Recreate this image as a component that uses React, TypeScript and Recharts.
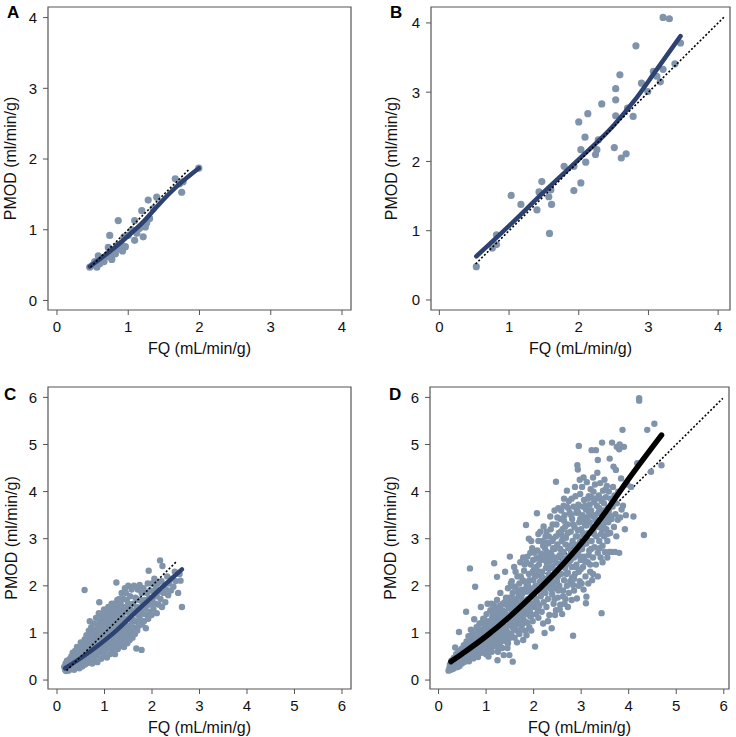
import { ReferenceArea, Scatter, ScatterChart, XAxis, YAxis } from "recharts";

type Pt = [number, number];

const DOT = "#7f93ab";
const NAVY = "#2d4270";
const FRAME = "#555";

const ticks4 = [0, 1, 2, 3, 4];
const ticks6 = [0, 1, 2, 3, 4, 5, 6];

// panel A
const aPoints: Pt[] = [
  [0.46, 0.47], [0.5, 0.5], [0.53, 0.55], [0.56, 0.47], [0.58, 0.63], [0.6, 0.52],
  [0.63, 0.6], [0.66, 0.55], [0.7, 0.62], [0.72, 0.75], [0.74, 0.92], [0.75, 0.65],
  [0.77, 0.58], [0.8, 0.7], [0.82, 0.66], [0.85, 0.78], [0.86, 1.13], [0.88, 0.73],
  [0.9, 0.8], [0.92, 0.7], [0.94, 0.9], [0.96, 0.76], [1.0, 0.92], [1.05, 1.0],
  [1.09, 0.85], [1.09, 1.13], [1.12, 0.95], [1.16, 1.02], [1.19, 1.27], [1.21, 0.9],
  [1.24, 1.04], [1.26, 1.1], [1.28, 1.42], [1.3, 1.16], [1.35, 1.3], [1.4, 1.46],
  [1.66, 1.72], [1.72, 1.65], [1.75, 1.53], [1.77, 1.68], [1.99, 1.87],
];
const aFit: Pt[] = [
  [0.46, 0.48], [0.7, 0.66], [0.95, 0.87], [1.2, 1.1], [1.45, 1.38], [1.7, 1.63], [1.99, 1.87],
];
const aIdentity: Pt[] = [[0.47, 0.47], [1.86, 1.86]];

// panel B
const bPoints: Pt[] = [
  [0.53, 0.48], [0.76, 0.75], [0.82, 0.8], [0.82, 0.94], [1.03, 1.51], [1.17, 1.38],
  [1.4, 1.3], [1.43, 1.56], [1.47, 1.71], [1.57, 1.49], [1.6, 1.59], [1.61, 1.38],
  [1.58, 0.96], [1.79, 1.93], [1.93, 1.93], [1.93, 1.58], [2.0, 2.57], [2.03, 1.69],
  [2.03, 2.17], [2.09, 2.35], [2.1, 1.99], [2.13, 2.69], [2.24, 2.1], [2.26, 2.17],
  [2.33, 2.83], [2.28, 2.31], [2.51, 2.2], [2.53, 3.05], [2.53, 2.89], [2.53, 2.66],
  [2.59, 3.25], [2.61, 2.05], [2.68, 2.11], [2.7, 2.77], [2.78, 2.65], [2.82, 3.67],
  [2.9, 3.13], [2.99, 3.01], [3.07, 3.3], [3.12, 3.23], [3.17, 3.15], [3.21, 3.33],
  [3.21, 4.08], [3.3, 4.06], [3.38, 3.41], [3.46, 3.71],
];
const bFit: Pt[] = [
  [0.53, 0.63], [1.0, 1.07], [1.5, 1.56], [2.0, 2.03], [2.5, 2.52], [2.8, 2.88],
  [3.1, 3.3], [3.46, 3.81],
];
const bIdentity: Pt[] = [[0.52, 0.52], [4.1, 4.1]];

// panel C
const cPoints: Pt[] = [
  [0.15, 0.28], [0.17, 0.22], [0.18, 0.35], [0.19, 0.19], [0.2, 0.3], [0.21, 0.41], [0.22, 0.24], [0.23, 0.33],
  [0.24, 0.2], [0.25, 0.38], [0.26, 0.28], [0.27, 0.45], [0.28, 0.23], [0.29, 0.34], [0.3, 0.5],
  [0.31, 0.27], [0.32, 0.4], [0.33, 0.58], [0.34, 0.31], [0.35, 0.47], [0.36, 0.22], [0.37, 0.36], [0.38, 0.62],
  [0.39, 0.28], [0.4, 0.52], [0.41, 0.42], [0.42, 0.7], [0.43, 0.3], [0.44, 0.57], [0.45, 0.38],
  [0.46, 0.48], [0.47, 0.25], [0.48, 0.66], [0.49, 0.34], [0.5, 0.8], [0.51, 0.44], [0.52, 0.55], [0.53, 0.29],
  [0.54, 0.72], [0.55, 0.4], [0.56, 0.62], [0.57, 0.5], [0.58, 1.91], [0.58, 0.86], [0.59, 0.33], [0.6, 0.68],
  [0.61, 0.45], [0.62, 0.95], [0.63, 0.56], [0.64, 0.36], [0.65, 0.78], [0.66, 0.5], [0.67, 1.05], [0.68, 0.64],
  [0.69, 1.25], [0.69, 0.4], [0.7, 0.88], [0.71, 0.55], [0.72, 1.12], [0.73, 0.72], [0.74, 0.35], [0.75, 0.98],
  [0.76, 0.6], [0.77, 1.2], [0.78, 0.82], [0.79, 0.45], [0.8, 1.05], [0.81, 0.68], [0.82, 1.32], [0.83, 0.52],
  [0.84, 0.92], [0.85, 0.38], [0.86, 1.18], [0.87, 0.75], [0.88, 1.42], [0.88, 0.58], [0.89, 1.65], [0.9, 1.0],
  [0.91, 0.65], [0.92, 1.25], [0.93, 0.45], [0.94, 0.85], [0.95, 1.35], [0.96, 0.7], [0.97, 1.1], [0.98, 0.52],
  [0.99, 1.5], [1.0, 0.92], [1.01, 0.62], [1.02, 1.22], [1.03, 0.8], [1.04, 1.42], [1.05, 0.48], [1.05, 1.02],
  [1.06, 1.3], [1.07, 0.7], [1.08, 1.55], [1.09, 0.9], [1.1, 1.15], [1.11, 0.55], [1.12, 1.4], [1.13, 0.78],
  [1.14, 1.05], [1.15, 1.62], [1.16, 0.62], [1.17, 1.25], [1.18, 0.88], [1.19, 1.5], [1.2, 0.72], [1.2, 1.12],
  [1.21, 1.38], [1.22, 0.55], [1.23, 0.98], [1.24, 1.58], [1.25, 2.07], [1.25, 0.8], [1.26, 1.22], [1.27, 1.7],
  [1.28, 0.66], [1.29, 1.05], [1.3, 1.45], [1.31, 0.9], [1.32, 1.3], [1.33, 0.72], [1.34, 1.62], [1.35, 1.1],
  [1.36, 1.85], [1.37, 0.82], [1.38, 1.38], [1.39, 1.0], [1.4, 1.55], [1.41, 0.7], [1.42, 1.22], [1.43, 1.95],
  [1.44, 0.9], [1.45, 1.45], [1.46, 1.08], [1.47, 1.7], [1.48, 0.78], [1.49, 1.3], [1.5, 2.0], [1.5, 0.98],
  [1.51, 1.55], [1.52, 1.15], [1.53, 0.85], [1.54, 1.78], [1.55, 1.35], [1.56, 1.0], [1.57, 1.92], [1.58, 1.25],
  [1.59, 0.9], [1.6, 1.62], [1.61, 1.12], [1.62, 2.0], [1.63, 1.42], [1.64, 0.98], [1.65, 1.75],
  [1.66, 1.25], [1.67, 0.67], [1.68, 1.55], [1.69, 1.05], [1.7, 1.92], [1.71, 1.38], [1.72, 1.15], [1.73, 1.7],
  [1.74, 2.02], [1.75, 1.28], [1.76, 1.5], [1.78, 0.64], [1.78, 1.85], [1.79, 1.18], [1.8, 1.62],
  [1.81, 1.4], [1.82, 1.95], [1.83, 1.25], [1.84, 1.7], [1.86, 1.52], [1.87, 1.1], [1.88, 1.39], [1.89, 1.85],
  [1.9, 1.6], [1.91, 2.05], [1.92, 1.3], [1.93, 2.32], [1.94, 1.75], [1.95, 1.45],
  [1.96, 1.9], [1.97, 1.6], [1.99, 1.38], [2.0, 2.05], [2.01, 1.72], [2.03, 1.5], [2.04, 1.88], [2.05, 2.15],
  [2.07, 1.62], [2.08, 1.95], [2.1, 1.78], [2.1, 1.42],
  [2.12, 2.05], [2.14, 1.6], [2.15, 1.88], [2.17, 2.54], [2.18, 1.72], [2.2, 2.1], [2.21, 1.55], [2.22, 2.42],
  [2.24, 1.85], [2.26, 2.0], [2.28, 1.65], [2.3, 1.92],
  [2.32, 2.2], [2.34, 1.8], [2.36, 2.05], [2.4, 1.9], [2.42, 2.15], [2.45, 1.98], [2.5, 2.1], [2.55, 1.85],
  [2.6, 2.11], [2.63, 1.55], [2.58, 2.25], [2.48, 2.3],
  [0.45, 0.62], [1.17, 1.45], [0.73, 0.58], [1.33, 1.15], [0.92, 0.72], [0.56, 0.42], [1.45, 1.28], [0.84, 1.08],
  [1.26, 0.95], [0.64, 0.75], [1.05, 1.18], [0.38, 0.45], [1.4, 1.72], [0.97, 0.88], [1.22, 1.32], [0.78, 0.65],
  [1.55, 1.5], [0.52, 0.62], [1.1, 0.68], [0.87, 1.3], [1.36, 1.02], [0.66, 0.88], [1.2, 1.62], [0.93, 1.05],
  [0.42, 0.33], [1.48, 1.15], [0.8, 0.88], [1.03, 1.3], [0.6, 0.58], [1.3, 1.25], [0.98, 0.65], [1.15, 0.85],
  [0.7, 0.7], [1.42, 0.88], [0.86, 0.98], [1.25, 1.48], [0.5, 0.5], [1.07, 0.95], [1.6, 1.28], [0.75, 0.85],
  [1.35, 1.35], [0.95, 1.18], [1.18, 1.05], [0.62, 0.82], [1.5, 1.62], [0.82, 0.58], [1.28, 1.18], [1.0, 1.35],
  [0.55, 0.75], [1.12, 1.28], [1.38, 1.5], [0.68, 0.52], [0.9, 0.88], [1.23, 0.68], [1.45, 1.85], [0.77, 1.02],
  [1.6, 1.45], [1.02, 1.08], [0.35, 0.35], [1.32, 1.58], [0.88, 1.1], [1.16, 1.52], [1.53, 1.38], [0.72, 0.95],
  [1.08, 0.82], [1.27, 1.42], [0.57, 0.55], [1.44, 1.18], [0.97, 1.42], [1.68, 1.72], [1.21, 1.2], [0.83, 0.7],
  [1.39, 1.3], [1.06, 1.48], [0.47, 0.55], [1.58, 1.1], [1.13, 1.12], [0.65, 0.62], [1.31, 1.72], [0.93, 0.98],
];
const cFit: Pt[] = [
  [0.17, 0.25], [0.55, 0.5], [0.9, 0.76], [1.26, 1.06], [1.6, 1.39], [1.96, 1.73],
  [2.3, 2.05], [2.63, 2.35],
];
const cIdentity: Pt[] = [[0.2, 0.2], [2.52, 2.52]];

// panel D
const dPoints: Pt[] = [
  [0.21, 0.2], [0.23, 0.26], [0.24, 0.33], [0.26, 0.22], [0.27, 0.41], [0.29, 0.29], [0.3, 0.36], [0.31, 0.24], [0.32, 0.47],
  [0.34, 0.31], [0.35, 0.69], [0.36, 0.4], [0.37, 0.55], [0.38, 0.27], [0.4, 0.46], [0.41, 0.36], [0.42, 0.61],
  [0.43, 1.02], [0.44, 0.3], [0.45, 0.52],
  [0.47, 0.42], [0.48, 0.66], [0.49, 0.35], [0.51, 0.57], [0.52, 0.48], [0.53, 0.74], [0.55, 0.39], [0.56, 0.63],
  [0.57, 0.52], [0.58, 1.45], [0.59, 0.82], [0.6, 0.45],
  [0.61, 0.69], [0.62, 0.57], [0.63, 0.93], [0.64, 0.4], [0.65, 0.76], [0.66, 2.37], [0.67, 0.62], [0.68, 1.07],
  [0.69, 0.51], [0.7, 0.85], [0.71, 0.68], [0.72, 1.0], [0.73, 0.46], [0.74, 0.77], [0.75, 1.29],
  [0.76, 0.6], [0.77, 1.98], [0.78, 0.9], [0.79, 0.55], [0.8, 1.12], [0.81, 0.72], [0.82, 0.83], [0.83, 0.49],
  [0.84, 1.02], [0.85, 0.66], [0.86, 1.2], [0.87, 0.78], [0.88, 0.94], [0.89, 1.55], [0.9, 0.58],
  [0.91, 0.87], [0.92, 1.08], [0.93, 0.7], [0.94, 1.3], [0.95, 0.97], [0.96, 0.62], [0.97, 0.8], [0.98, 1.17],
  [0.99, 0.9], [1.0, 0.55], [1.01, 1.4], [1.02, 0.75], [1.03, 1.62], [1.04, 1.02], [1.05, 0.85],
  [1.06, 1.25], [1.07, 0.66], [1.08, 0.94], [1.09, 1.48], [1.1, 0.78], [1.11, 1.1], [1.12, 0.6], [1.13, 1.33],
  [1.14, 0.88], [1.15, 1.02], [1.16, 1.6], [1.17, 2.48], [1.17, 0.72], [1.18, 1.2], [1.19, 0.95], [1.2, 1.42],
  [1.21, 0.82], [1.22, 1.08], [1.23, 2.19], [1.23, 1.7], [1.24, 0.42], [1.25, 1.3], [1.26, 0.98], [1.27, 1.52],
  [1.28, 0.76], [1.29, 1.15], [1.3, 1.85], [1.31, 0.9], [1.32, 1.38], [1.33, 1.05], [1.34, 0.68], [1.35, 1.62],
  [1.36, 1.22], [1.37, 0.53], [1.38, 0.95], [1.39, 1.45], [1.4, 2.3], [1.41, 1.1], [1.42, 1.75], [1.43, 0.82],
  [1.44, 1.32], [1.45, 1.02], [1.46, 1.95], [1.47, 1.55], [1.48, 0.88], [1.49, 0.53], [1.5, 1.2], [1.5, 2.62],
  [1.51, 1.68], [1.52, 1.4], [1.53, 0.98], [1.54, 2.1], [1.55, 1.28], [1.56, 0.39], [1.56, 1.85], [1.57, 1.1],
  [1.58, 1.52], [1.59, 2.4], [1.6, 0.9], [1.61, 1.35], [1.62, 1.98], [1.63, 1.18], [1.64, 1.62], [1.65, 1.05],
  [1.66, 2.2], [1.67, 1.45], [1.68, 1.25], [1.69, 1.8], [1.7, 0.98], [1.71, 1.58], [1.72, 2.5], [1.73, 1.35],
  [1.74, 1.92], [1.75, 1.15], [1.76, 1.7], [1.77, 2.12], [1.78, 0.85], [1.78, 1.48], [1.79, 1.28], [1.8, 2.32],
  [1.81, 1.62], [1.82, 1.05], [1.83, 1.88], [1.84, 3.29], [1.84, 1.4], [1.85, 2.05], [1.86, 1.22], [1.87, 2.62],
  [1.88, 1.72], [1.89, 1.5], [1.9, 2.25], [1.9, 3.0], [1.91, 1.12], [1.92, 1.95], [1.93, 1.35], [1.94, 2.45], [1.95, 1.62],
  [1.96, 1.85], [1.97, 2.8], [1.98, 1.25], [1.99, 2.12], [2.0, 1.55], [2.01, 2.35], [2.02, 1.75], [2.03, 0.71],
  [2.04, 2.0], [2.05, 1.4], [2.06, 2.58], [2.07, 3.54], [2.07, 1.65], [2.08, 2.22], [2.09, 1.9], [2.1, 2.95], [2.1, 1.32],
  [2.11, 2.45], [2.12, 1.58], [2.13, 2.08], [2.14, 3.15], [2.15, 1.78], [2.16, 2.68], [2.17, 1.45], [2.18, 2.3],
  [2.19, 1.95], [2.2, 2.85], [2.21, 3.26], [2.21, 1.65], [2.22, 2.15], [2.23, 1.0], [2.24, 2.55], [2.25, 1.85], [2.25, 3.05],
  [2.26, 2.38], [2.27, 1.55], [2.28, 2.72], [2.29, 2.02], [2.3, 1.72], [2.31, 2.9], [2.32, 2.25], [2.33, 1.38],
  [2.34, 2.52], [2.35, 3.47], [2.35, 1.95], [2.36, 3.2], [2.37, 2.12], [2.38, 1.1], [2.38, 2.65], [2.39, 1.82], [2.4, 2.4],
  [2.41, 3.0], [2.42, 1.62], [2.43, 2.22], [2.44, 3.6], [2.44, 2.78], [2.45, 1.95], [2.46, 2.5], [2.47, 4.21],
  [2.47, 1.48], [2.48, 3.3], [2.49, 2.1], [2.5, 2.88], [2.51, 1.75], [2.52, 3.65], [2.52, 2.35], [2.53, 3.12],
  [2.54, 2.0], [2.55, 2.65],
  [2.56, 1.6], [2.57, 3.42], [2.58, 2.25], [2.59, 2.95], [2.6, 1.4], [2.6, 2.5], [2.61, 3.2], [2.62, 1.9],
  [2.63, 3.7], [2.63, 2.72], [2.64, 2.12], [2.65, 3.5], [2.66, 2.38], [2.67, 1.72], [2.68, 3.02], [2.69, 2.58],
  [2.7, 4.02], [2.7, 2.0],
  [2.71, 3.3], [2.72, 2.28], [2.73, 2.8], [2.74, 3.8], [2.74, 1.85], [2.75, 2.52], [2.76, 3.55], [2.77, 2.1],
  [2.78, 3.15], [2.79, 2.7], [2.8, 1.7], [2.8, 2.4], [2.81, 3.42], [2.82, 2.95], [2.83, 0.94], [2.83, 2.02],
  [2.84, 3.68], [2.85, 2.6],
  [2.86, 3.25], [2.87, 2.25], [2.88, 3.9], [2.89, 2.82], [2.9, 2.45], [2.9, 3.55], [2.91, 1.73], [2.92, 4.56],
  [2.92, 3.05], [2.93, 4.47], [2.93, 2.65], [2.94, 3.72], [2.95, 4.97], [2.95, 2.3], [2.96, 3.35], [2.97, 2.92],
  [2.98, 3.95], [2.99, 2.55], [3.0, 3.2],
  [3.01, 2.05], [3.02, 4.1], [3.02, 2.78], [3.03, 3.5], [3.04, 2.4], [3.05, 3.05], [3.06, 3.82], [3.07, 2.62],
  [3.08, 3.3], [3.09, 2.2], [3.1, 1.63], [3.1, 3.62], [3.11, 1.77], [3.11, 2.9], [3.12, 4.2], [3.13, 3.45],
  [3.14, 2.5], [3.15, 3.12],
  [3.16, 3.9], [3.17, 2.75], [3.18, 3.35], [3.19, 2.3], [3.2, 4.05], [3.21, 3.6], [3.22, 4.88], [3.22, 2.95],
  [3.23, 2.12], [3.24, 3.48], [3.25, 4.3], [3.25, 2.6], [3.26, 3.15], [3.27, 3.78], [3.28, 2.82], [3.29, 4.15], [3.3, 3.4],
  [3.31, 4.88], [3.31, 2.45], [3.32, 3.05], [3.33, 3.7], [3.34, 4.4], [3.35, 4.67], [3.35, 2.7], [3.36, 3.25],
  [3.37, 3.92], [3.38, 2.95], [3.39, 3.55], [3.4, 4.18], [3.41, 2.6], [3.42, 3.1], [3.43, 1.42], [3.43, 3.8],
  [3.44, 5.04], [3.45, 3.35], [3.45, 2.85],
  [3.46, 4.02], [3.47, 3.6], [3.48, 3.05], [3.49, 4.25], [3.5, 2.72], [3.51, 3.45], [3.52, 3.88], [3.53, 3.2],
  [3.54, 4.12], [3.55, 2.95], [3.56, 3.65], [3.57, 3.35], [3.58, 4.0], [3.59, 2.72], [3.6, 4.7], [3.6, 3.5],
  [3.61, 3.12], [3.62, 3.85], [3.63, 2.72], [3.64, 3.42], [3.65, 5.04], [3.66, 3.68], [3.67, 4.1], [3.68, 4.53],
  [3.69, 3.25], [3.7, 3.92], [3.71, 2.72], [3.72, 3.52], [3.73, 4.46], [3.74, 3.05], [3.75, 4.95], [3.75, 3.75],
  [3.77, 3.4], [3.78, 4.0], [3.8, 2.7], [3.8, 4.9], [3.81, 5.0], [3.82, 3.45], [3.84, 4.28], [3.85, 3.62],
  [3.87, 5.31], [3.88, 3.7], [3.9, 4.95], [3.92, 3.2], [3.94, 3.5], [3.97, 4.15], [4.05, 4.1], [4.1, 3.47],
  [4.18, 4.6], [4.22, 5.98], [4.22, 5.93], [4.32, 3.08], [4.39, 5.31], [4.47, 4.42], [4.54, 5.44], [4.69, 4.56],
  [1.07, 1.15], [2.33, 2.04], [0.63, 0.48], [2.86, 2.87], [1.74, 1.08], [3.18, 3.72], [0.95, 0.72], [2.12, 2.6],
  [1.43, 1.6], [2.67, 2.88], [0.54, 0.59], [3.36, 3.55], [1.92, 1.45], [2.45, 2.32], [1.21, 1.25], [2.98, 3.42],
  [0.78, 0.68], [1.67, 1.88], [2.21, 1.88], [3.48, 3.75], [1.35, 0.9], [2.72, 3.12], [0.88, 0.82], [1.98, 2.3],
  [2.56, 2.78], [3.08, 2.52], [1.56, 1.45], [0.71, 0.6], [2.39, 2.95], [1.84, 1.95], [3.27, 3.1], [1.12, 0.85],
  [2.62, 1.78], [0.46, 0.6], [1.47, 1.28], [2.93, 3.18], [2.05, 1.72], [1.76, 1.42], [3.41, 3.85], [0.99, 1.05],
  [2.28, 2.48], [1.63, 1.72], [2.81, 2.18], [1.27, 1.35], [3.13, 2.98], [0.84, 0.58], [2.49, 2.6], [1.91, 2.12],
  [3.55, 3.1], [1.39, 1.65], [2.17, 2.2], [0.68, 0.78], [2.74, 2.62], [1.53, 1.15], [3.03, 3.68], [1.18, 1.52],
  [2.38, 1.92], [1.86, 1.58], [2.95, 2.75], [0.58, 0.66], [3.29, 3.5], [1.44, 0.98], [2.06, 2.4], [1.71, 1.22],
  [2.59, 3.08], [0.92, 1.22], [3.16, 2.65], [1.31, 1.25], [2.24, 2.8], [1.97, 1.62], [2.83, 3.3], [0.75, 0.88],
  [1.58, 1.98], [3.47, 3.3], [2.43, 2.55], [1.16, 1.32], [2.69, 2.25], [1.79, 2.1], [3.07, 3.4], [0.41, 0.28],
  [2.31, 2.62], [1.49, 1.75], [2.88, 2.4], [1.04, 0.72], [3.22, 3.88], [2.01, 1.95], [1.66, 1.05], [2.54, 2.45],
  [0.86, 0.98], [3.38, 3.65], [1.26, 0.66], [2.15, 2.55], [2.76, 2.85], [1.94, 1.75], [3.01, 2.62], [0.61, 0.5],
  [1.69, 1.6], [2.47, 3.05], [1.34, 1.48], [3.11, 3.28], [2.26, 1.98], [0.97, 1.28], [2.64, 3.38], [1.81, 2.45],
  [3.44, 3.2], [1.54, 1.62], [2.09, 1.5], [0.73, 0.72], [2.91, 3.62], [1.41, 1.4], [3.19, 2.45], [2.36, 2.7],
  [1.09, 1.2], [2.79, 3.5], [1.87, 1.88], [3.52, 4.05], [0.52, 0.38], [2.51, 2.2], [1.61, 1.3], [2.97, 2.1],
  [1.23, 0.92], [3.26, 4.0], [2.19, 2.05], [0.82, 1.1], [2.68, 2.45], [1.73, 2.2], [3.06, 2.88], [1.38, 1.15],
  [2.42, 2.05], [0.94, 0.6], [3.33, 3.35], [1.99, 2.55], [2.57, 3.15], [1.14, 1.42], [2.85, 2.15], [1.65, 1.42],
  [3.58, 3.6], [0.66, 0.92], [2.29, 2.15], [1.46, 0.78], [3.14, 3.85], [2.03, 2.2], [1.83, 1.22], [2.73, 3.65],
  [1.02, 0.95], [3.39, 2.8], [2.44, 1.72], [1.29, 1.58], [0.8, 0.52], [2.61, 2.7], [1.93, 2.7], [3.04, 3.12],
  [1.55, 1.72], [2.35, 2.38], [0.89, 0.75], [3.24, 3.25], [1.75, 1.82], [2.89, 3.05], [1.19, 0.82], [2.52, 1.9],
  [3.46, 3.5], [2.11, 2.3], [1.6, 1.08], [2.78, 2.55], [0.48, 0.45], [3.09, 3.7], [1.37, 1.35], [2.22, 2.62],
  [1.88, 2.02], [2.99, 2.35], [1.11, 1.62], [2.66, 3.25], [3.31, 3.85], [1.5, 1.52], [2.41, 2.8], [0.77, 0.78],
  [1.96, 1.38], [3.21, 2.78], [2.58, 2.62], [1.32, 0.82], [2.94, 3.55], [1.7, 1.45], [3.53, 3.45], [2.27, 2.92],
  [0.99, 1.12], [2.84, 2.72], [1.42, 1.12], [3.17, 3.55], [2.08, 2.75], [1.22, 1.45],
  [1.52, 2.05], [1.62, 2.3], [1.7, 2.05], [1.78, 2.6], [1.85, 2.5], [1.95, 2.95], [2.02, 2.7], [2.1, 3.1],
  [2.18, 2.95], [2.27, 3.15], [2.32, 3.05], [2.4, 3.3], [2.5, 3.45], [2.58, 3.6], [2.64, 3.85], [2.7, 3.68],
  [2.8, 3.85], [2.87, 4.1], [2.97, 4.25], [3.05, 4.3],
  [2.45, 1.38], [2.55, 1.5], [2.65, 1.62], [2.72, 1.55], [2.85, 1.9], [2.95, 2.0], [3.05, 1.92], [3.15, 2.05],
  [3.25, 2.25], [3.35, 2.2], [3.45, 2.5], [3.55, 2.6], [2.2, 1.2], [2.3, 1.25], [1.95, 1.05], [1.85, 0.95],
  [1.65, 0.8], [1.45, 0.68], [1.25, 0.6], [1.05, 0.5],
];
const dFit: Pt[] = [
  [0.26, 0.39], [0.5, 0.56], [1.0, 0.93], [1.5, 1.35], [2.0, 1.82], [2.5, 2.33],
  [3.0, 2.9], [3.5, 3.55], [4.0, 4.27], [4.69, 5.2],
];
const dIdentity: Pt[] = [[0.22, 0.22], [5.98, 5.98]];

const toXY = (pts: Pt[]) => pts.map(([x, y]) => ({ x, y }));

type PanelProps = {
  letter: string;
  left: number;
  top: number;
  height: number;
  marginTop: number;
  marginRight: number;
  marginBottom: number;
  yAxisWidth: number;
  yLabelX: number;
  letterX: number;
  letterY: number;
  xDomain: [number, number];
  yDomain: [number, number];
  ticks: number[];
  points: Pt[];
  fit: Pt[];
  identity: Pt[];
  fitColor: string;
  fitWidth: number;
  dotR: number;
  identityUnder?: boolean;
};

function Panel(p: PanelProps) {
  const yLabel = (props: any) => {
    const vb = props.viewBox;
    const x = vb.x + p.yLabelX;
    const y = vb.y + vb.height / 2;
    return (
      <g>
        <text x={x} y={y} transform={`rotate(-90 ${x} ${y})`} textAnchor="middle"
          dominantBaseline="central" fontSize={16} fill="#111">
          PMOD (ml/min/g)
        </text>
        <text x={p.letterX} y={p.letterY} fontSize={17} fontWeight="bold" fill="#000">
          {p.letter}
        </text>
      </g>
    );
  };
  const xLabel = (props: any) => {
    const vb = props.viewBox;
    return (
      <text x={vb.x + vb.width / 2} y={vb.y + 38} textAnchor="middle"
        dominantBaseline="central" fontSize={16} fill="#111">
        FQ (mL/min/g)
      </text>
    );
  };
  const dot = (s: any) => <circle cx={s.cx} cy={s.cy} r={p.dotR} fill={DOT} />;
  const none = () => <g />;

  const identity = (
    <Scatter key="identity" data={toXY(p.identity)} shape={none} isAnimationActive={false}
      line={{ stroke: "#000", strokeWidth: 1.6, strokeDasharray: "2 2" }} />
  );

  return (
    <div style={{ position: "absolute", left: p.left, top: p.top }}>
      <ScatterChart
        width={368}
        height={p.height}
        margin={{ top: p.marginTop, right: p.marginRight, bottom: p.marginBottom, left: 0 }}
      >
        <XAxis type="number" dataKey="x" domain={p.xDomain} ticks={p.ticks} allowDataOverflow
          interval={0} axisLine={false} tickSize={5} tickMargin={6} height={40}
          tick={{ fill: "#111", fontSize: 15 }} tickLine={{ stroke: FRAME }} label={xLabel} />
        <YAxis type="number" dataKey="y" domain={p.yDomain} ticks={p.ticks} allowDataOverflow
          interval={0} axisLine={false} tickSize={5} tickMargin={6} width={p.yAxisWidth}
          tick={{ fill: "#111", fontSize: 15 }} tickLine={{ stroke: FRAME }} label={yLabel} />
        <ReferenceArea x1={p.xDomain[0]} x2={p.xDomain[1]} y1={p.yDomain[0]} y2={p.yDomain[1]}
          fill="none" stroke={FRAME} strokeWidth={1.2} />
        {p.identityUnder && identity}
        <Scatter data={toXY(p.points)} shape={dot} isAnimationActive={false} />
        <Scatter data={toXY(p.fit)} shape={none} lineJointType="monotoneX" isAnimationActive={false}
          line={{ stroke: p.fitColor, strokeWidth: p.fitWidth, strokeLinecap: "round" }} />
        {!p.identityUnder && identity}
      </ScatterChart>
    </div>
  );
}

export default function App() {
  return (
    <div
      style={{
        position: "absolute",
        left: 0,
        top: 0,
        width: 736,
        height: 737,
        background: "#fff",
        fontFamily: "'Liberation Sans', Arial, sans-serif",
      }}
    >
      <Panel letter="A" left={0} top={0} height={368} marginTop={7} marginRight={17} marginBottom={18}
        yAxisWidth={48} yLabelX={10} letterX={7} letterY={18}
        xDomain={[-0.126, 4.126]} yDomain={[-0.135, 4.15]} ticks={ticks4}
        points={aPoints} fit={aFit} identity={aIdentity} fitColor={NAVY} fitWidth={4.5} dotR={3.6} />
      <Panel letter="B" left={368} top={0} height={368} marginTop={7} marginRight={6} marginBottom={18}
        yAxisWidth={63} yLabelX={23} letterX={22} letterY={18}
        xDomain={[-0.12, 4.17]} yDomain={[-0.145, 4.23]} ticks={ticks4}
        points={bPoints} fit={bFit} identity={bIdentity} fitColor={NAVY} fitWidth={4.5} dotR={3.6} />
      <Panel letter="C" left={0} top={370} height={367} marginTop={17} marginRight={17} marginBottom={8}
        yAxisWidth={48} yLabelX={11} letterX={4} letterY={30}
        xDomain={[-0.19, 6.19]} yDomain={[-0.19, 6.22]} ticks={ticks6}
        points={cPoints} fit={cFit} identity={cIdentity} fitColor={NAVY} fitWidth={4.5} dotR={3.2} />
      <Panel letter="D" left={368} top={370} height={367} marginTop={17} marginRight={7} marginBottom={8}
        yAxisWidth={62} yLabelX={22} letterX={21} letterY={30}
        xDomain={[-0.18, 6.11]} yDomain={[-0.19, 6.22]} ticks={ticks6}
        points={dPoints} fit={dFit} identity={dIdentity} fitColor="#000" fitWidth={5.5} dotR={3.2}
        identityUnder />
    </div>
  );
}
